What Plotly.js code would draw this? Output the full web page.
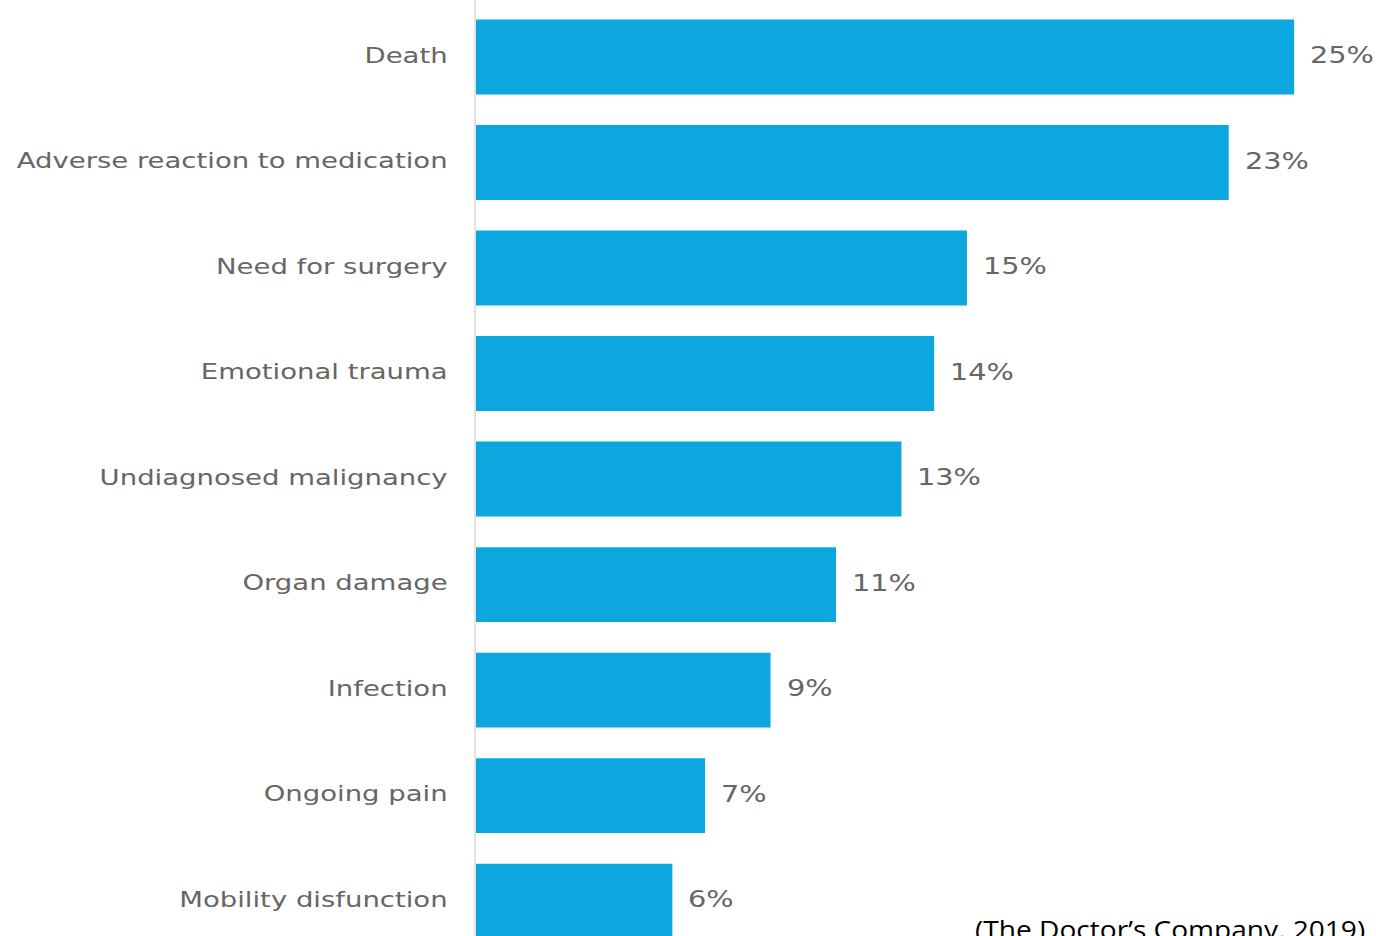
<!DOCTYPE html>
<html><head><meta charset="utf-8">
<script src="https://cdn.plot.ly/plotly-3.0.1.min.js"></script>
<style>html,body{margin:0;padding:0;background:#fff}#chart{width:1376px;height:936px}</style>
</head><body><div id="chart"></div>
<script>
var categories = ["Death","Adverse reaction to medication","Need for surgery","Emotional trauma","Undiagnosed malignancy","Organ damage","Infection","Ongoing pain","Mobility disfunction"];
var values = [25,23,15,14,13,11,9,7,6];
var valueLabels = values.map(function(v){return v+"%";});
var source = "(The Doctor\u2019s Company, 2019)";

var labelFont = {family:"DejaVu Sans, Arial, sans-serif", size:22, color:"#666666"};
var valueFont = {family:"DejaVu Sans, Arial, sans-serif", size:23, color:"#666666"};

var bars = {
  type:"bar", orientation:"h", y:categories, x:values,
  marker:{color:"#0BA7DE", line:{width:0}},
  hoverinfo:"none"
};

var ann = categories.map(function(c,i){
  return {xref:"x", yref:"y", x:values[i], y:c, xanchor:"left", yanchor:"middle", xshift:14, yshift:2,
    text:valueLabels[i], showarrow:false, font:valueFont};
});
ann.push({xref:"paper", yref:"paper", x:0.552, y:0, xanchor:"left", yanchor:"top", yshift:27,
    text:source, showarrow:false, font:{family:"Open Sans, sans-serif", size:26, color:"#000000"}});

var layout = {
  width:1376, height:936,
  margin:{l:476, r:0, t:0, b:0},
  paper_bgcolor:"#ffffff", plot_bgcolor:"#ffffff",
  showlegend:false, bargap:0.29,
  xaxis:{range:[0,27.5], visible:false, fixedrange:true},
  yaxis:{type:"category", range:[8.33,-0.54], showline:true, linecolor:"#e3e3e3", linewidth:2,
         showgrid:false, zeroline:false, ticks:"", tickfont:labelFont, ticklabelstandoff:22, fixedrange:true},
  annotations:ann
};

function stretch(t, sx, anchorRight, dy){
  var b = t.getBBox();
  var ax = anchorRight ? b.x + b.width : b.x;
  var cur = t.getAttribute("transform") || "";
  t.setAttribute("transform", cur + " translate(0 " + dy + ") translate(" + ax + " 0) scale(" + sx + " 1) translate(" + (-ax) + " 0)");
}

Plotly.newPlot("chart",[bars],layout,{displayModeBar:false, staticPlot:true}).then(function(){
  document.querySelectorAll("#chart .ytick text").forEach(function(t){ stretch(t, 1.25, true, -2); });
  var g = document.querySelectorAll("#chart .annotation");
  g.forEach(function(el,i){
    var t = el.querySelector("text");
    if(!t) return;
    if(i < values.length) stretch(t, 1.25, false, 0);
    else stretch(t, 1.08, false, 0);
  });
});
</script></body></html>
